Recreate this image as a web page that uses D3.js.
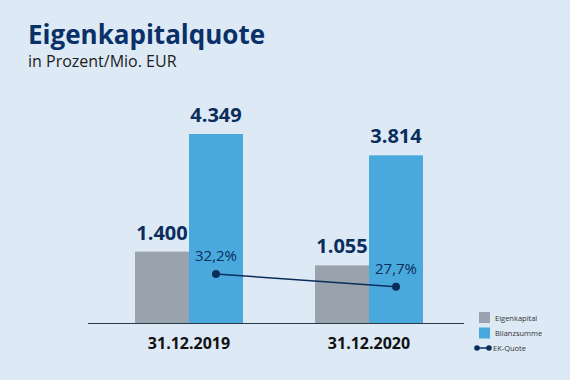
<!DOCTYPE html>
<html>
<head>
<meta charset="utf-8">
<script src="https://cdn.jsdelivr.net/npm/d3@7"></script>
<style>
  body { margin: 0; background: #dde9f5; }
  svg { display: block; font-family: "Open Sans", "Noto Sans", sans-serif; }
</style>
</head>
<body>
<div id="chart-area"></div>
<script>
// values
var categories = ["31.12.2019", "31.12.2020"];
var series = ["Eigenkapital", "Bilanzsumme"];
var eigenkapital = [1400, 1055];
var bilanzsumme = [4349, 3814];
var ekQuote = [32.2, 27.7];

var colors = { Eigenkapital: "#9aa3ad", Bilanzsumme: "#4aa9dc" };
var navy = "#0b2d5c";

var width = 570, height = 380;
var baseY = 323;

var svg = d3.select("#chart-area").append("svg")
    .attr("width", width)
    .attr("height", height);

svg.append("rect").attr("width", width).attr("height", height).attr("fill", "#dde9f5");

// title
svg.append("text")
    .attr("x", 28).attr("y", 44)
    .attr("font-size", 26).attr("font-weight", 700)
    .attr("fill", "#0a3068")
    .text("Eigenkapitalquote");
svg.append("text")
    .attr("x", 28).attr("y", 67)
    .attr("font-size", 16)
    .attr("fill", "#1c1c1c")
    .text("in Prozent/Mio. EUR");

var x0 = d3.scaleBand().domain(categories).range([99, 459]).paddingInner(0.4).paddingOuter(0.2);
var x1 = d3.scaleBand().domain(series).range([0, x0.bandwidth()]);
var y = d3.scaleLinear().domain([-390, 4349]).range([baseY, 134]);
var yPct = d3.scaleLinear().domain([15, 35]).range([baseY, 266]);

var rows = categories.map(function(c, i) {
    return { cat: c, values: [
        { key: "Eigenkapital", value: eigenkapital[i] },
        { key: "Bilanzsumme", value: bilanzsumme[i] }
    ], quote: ekQuote[i] };
});

var fmt = function(v) { return d3.format(",")(v).replace(/,/g, "."); };

var groups = svg.selectAll("g.grp")
    .data(rows)
    .enter().append("g")
    .attr("class", "grp")
    .attr("transform", function(d) { return "translate(" + x0(d.cat) + ",0)"; });

groups.selectAll("rect")
    .data(function(d) { return d.values; })
    .enter().append("rect")
    .attr("x", function(d) { return x1(d.key); })
    .attr("width", x1.bandwidth())
    .attr("y", function(d) { return y(d.value); })
    .attr("height", function(d) { return baseY - y(d.value); })
    .attr("fill", function(d) { return colors[d.key]; });

groups.selectAll("text.val")
    .data(function(d) { return d.values; })
    .enter().append("text")
    .attr("class", "val")
    .attr("x", function(d) { return x1(d.key) + x1.bandwidth() / 2; })
    .attr("y", function(d) { return y(d.value) - 12; })
    .attr("text-anchor", "middle")
    .attr("font-size", 20).attr("font-weight", 700)
    .attr("fill", navy)
    .text(function(d) { return fmt(d.value); });

// axis line
svg.append("line")
    .attr("x1", 88).attr("x2", 464)
    .attr("y1", baseY + 0.5).attr("y2", baseY + 0.5)
    .attr("stroke", "#2c3a48").attr("stroke-width", 1);

svg.selectAll("text.cat")
    .data(categories)
    .enter().append("text")
    .attr("class", "cat")
    .attr("x", function(d) { return x0(d) + x0.bandwidth() / 2; })
    .attr("y", 349)
    .attr("text-anchor", "middle")
    .attr("font-size", 16).attr("font-weight", 700)
    .attr("fill", "#111")
    .text(function(d) { return d; });

// EK-Quote line
var px = function(d) { return x0(d.cat) + x1("Bilanzsumme") + x1.bandwidth() / 2; };
svg.append("path")
    .datum(rows)
    .attr("fill", "none")
    .attr("stroke", navy).attr("stroke-width", 1.5)
    .attr("d", d3.line().x(px).y(function(d) { return yPct(d.quote); }));

svg.selectAll("circle.pt")
    .data(rows)
    .enter().append("circle")
    .attr("class", "pt")
    .attr("cx", px)
    .attr("cy", function(d) { return yPct(d.quote); })
    .attr("r", 4)
    .attr("fill", navy);

svg.selectAll("text.pct")
    .data(rows)
    .enter().append("text")
    .attr("class", "pct")
    .attr("x", px)
    .attr("y", function(d) { return yPct(d.quote) - 13; })
    .attr("text-anchor", "middle")
    .attr("font-size", 15).attr("font-weight", 500)
    .attr("fill", navy)
    .text(function(d) { return String(d.quote).replace(".", ",") + "%"; });

// legend
var legend = svg.append("g").attr("transform", "translate(479,312)");
series.forEach(function(s, i) {
    legend.append("rect")
        .attr("x", 0).attr("y", i * 15.5)
        .attr("width", 11).attr("height", 11)
        .attr("fill", colors[s]);
    legend.append("text")
        .attr("x", 16).attr("y", i * 15.5 + 8.5)
        .attr("font-size", 7.5)
        .attr("fill", "#333")
        .text(s);
});
legend.append("line")
    .attr("x1", -2).attr("x2", 10).attr("y1", 36).attr("y2", 36)
    .attr("stroke", navy).attr("stroke-width", 1.5);
legend.selectAll("circle")
    .data([-2, 10])
    .enter().append("circle")
    .attr("cx", function(d) { return d; }).attr("cy", 36).attr("r", 2.8)
    .attr("fill", navy);
legend.append("text")
    .attr("x", 14).attr("y", 38.7)
    .attr("font-size", 7.5)
    .attr("fill", "#333")
    .text("EK-Quote");
</script>
</body>
</html>
